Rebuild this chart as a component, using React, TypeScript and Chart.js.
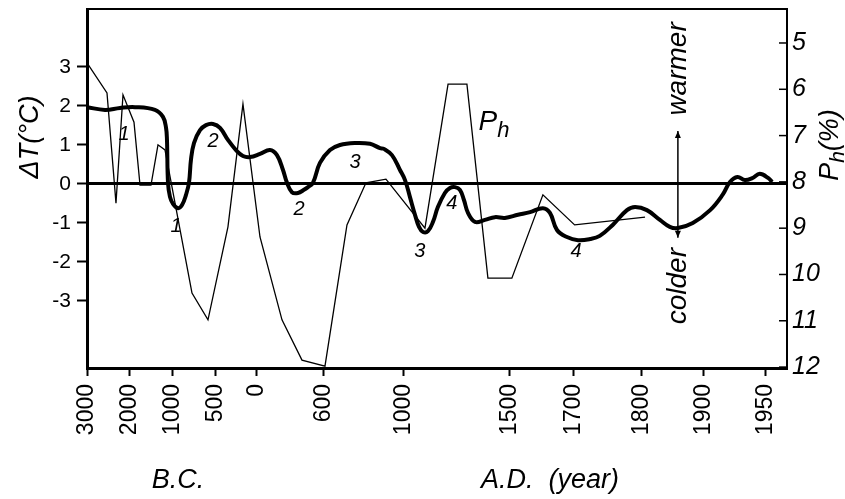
import React, { useEffect, useRef } from "react";
import { Chart, registerables } from "chart.js";

Chart.register(...registerables);

// ---- axis definition (non-uniform, stretched time axis) ----
const TICK_YEARS = [-3000, -2000, -1000, -500, 0, 600, 1000, 1500, 1700, 1800, 1900, 1950];
const TICK_LABELS = ["3000", "2000", "1000", "500", "0", "600", "1000", "1500", "1700", "1800", "1900", "1950"];
const TICK_SPACING = [0, 43, 86, 129, 170, 237, 317, 423, 487, 555, 617, 679];
const X_END_YEAR = 1967;

const DT_TICKS = [-3, -2, -1, 0, 1, 2, 3];
const PH_TICKS = [5, 6, 7, 8, 9, 10, 11, 12];

// ---- ΔT (°C), thick curve ----
const DT_YEARS = [
  -3000, -2581, -2233, -1884, -1419, -1233, -1163, -1140, -1116, -1070, -1000, -942, -895, -849, -814,
  -791, -756, -686, -616, -535, -451, -354, -256, -171, -85, 27, 116, 179, 233, 269, 313, 367, 421,
  457, 501, 564, 630, 680, 755, 830, 880, 900, 940, 980, 1005, 1028, 1052, 1071, 1090, 1113, 1137,
  1160, 1193, 1217, 1241, 1264, 1283, 1302, 1335, 1382, 1429, 1476, 1525, 1563, 1603, 1625, 1647,
  1678, 1706, 1724, 1738, 1757, 1778, 1790, 1808, 1829, 1845, 1858, 1882, 1905, 1915, 1921, 1927,
  1933, 1939, 1945, 1952, 1955,
];
const DT_VALUES = [
  1.97, 1.9, 1.95, 1.97, 1.9, 1.72, 1.45, 1.13, 0.03, -0.33, -0.51, -0.62, -0.54, -0.28, 0.03,
  0.62, 1.05, 1.38, 1.51, 1.54, 1.44, 1.13, 0.87, 0.72, 0.69, 0.77, 0.87, 0.74, 0.36, 0.03, -0.21, -0.23, -0.15,
  -0.08, 0.03, 0.54, 0.87, 1.0, 1.05, 1.03, 0.92, 0.9, 0.74, 0.36, 0.1, -0.33, -0.79, -1.1, -1.23, -1.21, -0.97,
  -0.59, -0.23, -0.1, -0.08, -0.15, -0.41, -0.74, -0.97, -0.92, -0.85, -0.87, -0.79, -0.72, -0.62, -0.74, -1.18,
  -1.36, -1.44, -1.41, -1.33, -1.05, -0.67, -0.59, -0.67, -0.92, -1.1, -1.13, -1.0, -0.67, -0.28, 0.05, 0.18,
  0.1, 0.15, 0.26, 0.15, 0.05,
];

// ---- Ph (%), thin polyline ----
const PH_YEARS = [
  -3000, -2535, -2326, -2163, -1907, -1767, -1512, -1349, -1186, -779, -593, -354, -171, 27, 224, 403,
  605, 715, 810, 910, 1099, 1208, 1297, 1396, 1506, 1603, 1701, 1805,
];
const PH_VALUES = [
  5.43, 6.08, 8.46, 6.12, 6.71, 8.07, 8.07, 7.2, 7.31, 10.4, 10.98, 8.97, 6.32, 9.19, 10.98, 11.85,
  11.98, 8.93, 8.02, 7.94, 9.0, 5.89, 5.89, 10.08, 10.08, 8.28, 8.93, 8.76,
];

// ---- annotation labels placed in data space (year, ΔT) ----
const NOTE_TEXT = ["1", "2", "1", "2", "3", "3", "4", "4"];
const NOTE_YEARS = [-2140, -535, -965, 376, 755, 1075, 1226, 1703];
const NOTE_DT = [1.26, 1.08, -1.08, -0.64, 0.54, -1.74, -0.51, -1.74];

const FONT = "'Liberation Sans', Arial, sans-serif";

function warp(year: number): number {
  const n = TICK_YEARS.length;
  let i = 0;
  while (i < n - 2 && year > TICK_YEARS[i + 1]) i++;
  const y0 = TICK_YEARS[i], y1 = TICK_YEARS[i + 1];
  const p0 = TICK_SPACING[i], p1 = TICK_SPACING[i + 1];
  return p0 + ((year - y0) * (p1 - p0)) / (y1 - y0);
}

function drawRuns(
  ctx: CanvasRenderingContext2D,
  cx: number,
  cy: number,
  rot: number,
  runs: { t: string; size: number; dy: number }[]
) {
  ctx.save();
  ctx.translate(cx, cy);
  ctx.rotate(rot);
  let total = 0;
  const widths = runs.map((r) => {
    ctx.font = `italic ${r.size}px ${FONT}`;
    const w = ctx.measureText(r.t).width;
    total += w;
    return w;
  });
  let x = -total / 2;
  ctx.textAlign = "left";
  ctx.textBaseline = "middle";
  runs.forEach((r, i) => {
    ctx.font = `italic ${r.size}px ${FONT}`;
    ctx.fillText(r.t, x, r.dy);
    x += widths[i];
  });
  ctx.restore();
}

const decorPlugin = {
  id: "decor",
  afterDatasetsDraw(chart: any) {
    const { ctx, chartArea, scales } = chart;
    const { left, right, top } = chartArea;
    ctx.save();
    ctx.strokeStyle = "#000";
    // top frame line
    ctx.lineWidth = 2;
    ctx.beginPath();
    ctx.moveTo(left, top);
    ctx.lineTo(right, top);
    ctx.stroke();
    // inner ticks on right axis
    ctx.lineWidth = 1.5;
    PH_TICKS.forEach((v) => {
      const y = scales.y1.getPixelForValue(v);
      ctx.beginPath();
      ctx.moveTo(right - 8, y);
      ctx.lineTo(right, y);
      ctx.stroke();
    });

    ctx.fillStyle = "#000";
    // curve annotations
    NOTE_TEXT.forEach((t, i) => {
      const x = scales.x.getPixelForValue(warp(NOTE_YEARS[i]));
      const y = scales.y.getPixelForValue(NOTE_DT[i]);
      ctx.font = `italic 20px ${FONT}`;
      ctx.textAlign = "center";
      ctx.textBaseline = "middle";
      ctx.fillText(t, x, y);
    });

    // P_h label
    const phx = scales.x.getPixelForValue(warp(1359));
    const phy = scales.y.getPixelForValue(1.59);
    drawRuns(ctx, phx + 14, phy, 0, [
      { t: "P", size: 28, dy: 0 },
      { t: "h", size: 22, dy: 9 },
    ]);

    // warmer / colder arrow
    const ax = scales.x.getPixelForValue(warp(1858));
    const ay0 = scales.y.getPixelForValue(1.36);
    const ay1 = scales.y.getPixelForValue(-1.38);
    ctx.lineWidth = 1.5;
    ctx.beginPath();
    ctx.moveTo(ax, ay0);
    ctx.lineTo(ax, ay1);
    ctx.stroke();
    const head = (y: number, dir: number) => {
      ctx.beginPath();
      ctx.moveTo(ax, y);
      ctx.lineTo(ax - 3, y - dir * 7);
      ctx.lineTo(ax + 3, y - dir * 7);
      ctx.closePath();
      ctx.fill();
    };
    head(ay0, -1);
    head(ay1, 1);
    drawRuns(ctx, ax, scales.y.getPixelForValue(2.95), -Math.PI / 2, [{ t: "warmer", size: 28, dy: 0 }]);
    drawRuns(ctx, ax, scales.y.getPixelForValue(-2.62), -Math.PI / 2, [{ t: "colder", size: 28, dy: 0 }]);

    // axis titles
    drawRuns(ctx, 30, 137, -Math.PI / 2, [{ t: "ΔT(°C)", size: 27, dy: 0 }]);
    drawRuns(ctx, 830, 145, -Math.PI / 2, [
      { t: "P", size: 27, dy: 0 },
      { t: "h", size: 21, dy: 8 },
      { t: "(%)", size: 27, dy: 0 },
    ]);
    drawRuns(ctx, 178, 480, 0, [{ t: "B.C.", size: 27, dy: 0 }]);
    drawRuns(ctx, 550, 480, 0, [{ t: "A.D.  (year)", size: 27, dy: 0 }]);
    ctx.restore();
  },
};

const noPad = (s: any) => {
  s.paddingTop = 0;
  s.paddingBottom = 0;
  s.paddingLeft = 0;
  s.paddingRight = 0;
};

export default function App() {
  const ref = useRef<HTMLCanvasElement>(null);

  useEffect(() => {
    if (!ref.current) return;
    const dtData = DT_YEARS.map((yr, i) => ({ x: warp(yr), y: DT_VALUES[i] }));
    const phData = PH_YEARS.map((yr, i) => ({ x: warp(yr), y: PH_VALUES[i] }));

    const chart = new Chart(ref.current, {
      type: "line",
      data: {
        datasets: [
          {
            label: "ΔT",
            data: dtData,
            yAxisID: "y",
            borderColor: "#000",
            borderWidth: 4,
            tension: 0.4,
            pointRadius: 0,
            fill: false,
          },
          {
            label: "Ph",
            data: phData,
            yAxisID: "y1",
            borderColor: "#000",
            borderWidth: 1.3,
            tension: 0,
            pointRadius: 0,
            fill: false,
          },
        ],
      },
      options: {
        animation: false,
        responsive: false,
        devicePixelRatio: 1,
        layout: { padding: { top: 9, left: 0, right: 0, bottom: 0 } },
        plugins: { legend: { display: false }, tooltip: { enabled: false } },
        scales: {
          x: {
            type: "linear",
            min: 0,
            max: warp(X_END_YEAR),
            afterBuildTicks: (s: any) => {
              s.ticks = TICK_YEARS.map((y) => ({ value: warp(y) }));
            },
            afterFit: (s: any) => {
              s.height = 131;
              noPad(s);
            },
            ticks: {
              autoSkip: false,
              minRotation: 90,
              maxRotation: 90,
              padding: 8,
              color: "#000",
              font: { family: FONT, size: 23 },
              callback: (_v: any, i: number) => TICK_LABELS[i],
            },
            grid: {
              drawOnChartArea: false,
              drawTicks: true,
              tickLength: 8,
              tickColor: "#000",
              tickWidth: 2,
            },
            border: { display: true, color: "#000", width: 3 },
          },
          y: {
            type: "linear",
            position: "left",
            min: -4.718,
            max: 4.487,
            afterBuildTicks: (s: any) => {
              s.ticks = DT_TICKS.map((v) => ({ value: v }));
            },
            afterFit: (s: any) => {
              s.width = 87;
              noPad(s);
            },
            ticks: {
              padding: 6,
              color: "#000",
              font: { family: FONT, size: 21 },
              callback: (v: any) => String(v),
            },
            grid: {
              drawOnChartArea: true,
              color: (c: any) => (c.tick && c.tick.value === 0 ? "#000" : "rgba(0,0,0,0)"),
              lineWidth: (c: any) => (c.tick && c.tick.value === 0 ? 3 : 1),
              drawTicks: true,
              tickLength: 10,
              tickColor: "#000",
              tickWidth: 2,
            },
            border: { display: true, color: "#000", width: 3 },
          },
          y1: {
            type: "linear",
            position: "right",
            reverse: true,
            min: 4.266,
            max: 12.02,
            afterBuildTicks: (s: any) => {
              s.ticks = PH_TICKS.map((v) => ({ value: v }));
            },
            afterFit: (s: any) => {
              s.width = 58;
              noPad(s);
            },
            ticks: {
              padding: 5,
              color: "#000",
              font: { family: FONT, size: 25, style: "italic" },
              callback: (v: any) => String(v),
            },
            grid: { drawOnChartArea: false, drawTicks: false },
            border: { display: true, color: "#000", width: 2 },
          },
        },
      },
      plugins: [decorPlugin],
    });
    return () => chart.destroy();
  }, []);

  return (
    <div style={{ position: "absolute", left: 0, top: 0, width: 845, height: 499, background: "#fff" }}>
      <canvas ref={ref} width={845} height={499} />
    </div>
  );
}
